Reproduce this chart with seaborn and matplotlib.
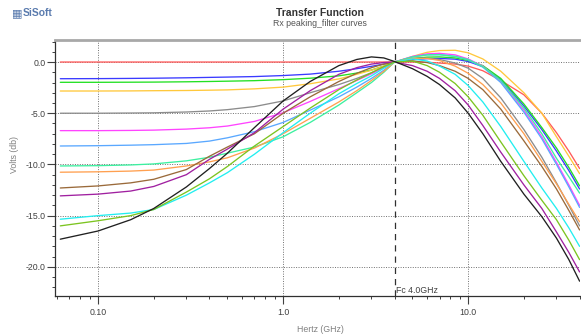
import numpy as np
import pandas as pd
import matplotlib
matplotlib.use("Agg")
import matplotlib.pyplot as plt
import seaborn as sns
from matplotlib.ticker import FixedLocator, NullFormatter

# ---- data ----
freq_ghz = [0.0625, 0.1, 0.15, 0.2, 0.3, 0.4, 0.5, 0.7, 1.0, 1.4, 2.0, 2.5, 3.0, 3.5,
            4.0, 5.0, 6.0, 7.0, 8.5, 10, 12, 15, 20, 25, 30, 35, 40]

red = [0, 0, 0, 0, 0, 0, 0, 0, 0, 0, 0, 0, 0, 0,
       0, 0, -0.02, -0.1, -0.2, -0.4, -0.85, -1.8, -3.2, -5.0, -6.9, -8.7, -10.4]
blue = [-1.63, -1.62, -1.6, -1.58, -1.54, -1.5, -1.47, -1.42, -1.32, -1.18, -0.9, -0.65, -0.42, -0.2,
        0.0, 0.22, 0.33, 0.35, 0.28, 0.05, -0.45, -1.7, -4.3, -6.6, -8.7, -10.6, -12.4]
green = [-1.98, -1.98, -1.97, -1.96, -1.93, -1.9, -1.87, -1.82, -1.72, -1.58, -1.35, -1.08, -0.78, -0.4,
         0.0, 0.35, 0.48, 0.5, 0.4, 0.15, -0.35, -1.6, -4.1, -6.4, -8.4, -10.3, -12.1]
yellow = [-2.83, -2.83, -2.82, -2.8, -2.78, -2.75, -2.72, -2.62, -2.45, -2.12, -1.65, -1.2, -0.8, -0.4,
          0.0, 0.55, 0.95, 1.12, 1.15, 0.9, 0.3, -0.9, -3.0, -5.0, -7.3, -9.2, -10.9]
gray = [-5.0, -5.0, -4.98, -4.96, -4.88, -4.78, -4.65, -4.35, -3.8, -3.0, -2.2, -1.6, -1.05, -0.5,
        0.0, 0.35, 0.38, 0.25, -0.1, -0.6, -1.6, -3.5, -6.6, -9.3, -11.8, -14.0, -16.0]
magenta = [-6.7, -6.7, -6.68, -6.65, -6.55, -6.42, -6.25, -5.8, -4.95, -3.85, -2.6, -1.8, -1.15, -0.55,
           0.0, 0.55, 0.8, 0.85, 0.7, 0.3, -0.4, -1.9, -4.7, -7.3, -9.8, -12.0, -14.0]
lightblue = [-8.2, -8.17, -8.12, -8.07, -7.95, -7.72, -7.4, -6.8, -5.9, -4.7, -3.4, -2.45, -1.6, -0.8,
             0.0, 0.5, 0.7, 0.72, 0.55, 0.2, -0.5, -2.0, -4.9, -7.5, -10.0, -12.2, -14.2]
mint = [-10.15, -10.12, -10.05, -9.95, -9.65, -9.3, -8.9, -8.3, -7.3, -5.9, -4.2, -3.0, -2.0, -1.0,
        0.0, 0.5, 0.7, 0.72, 0.55, 0.25, -0.45, -1.8, -4.5, -7.0, -9.4, -11.2, -12.8]
orange = [-10.76, -10.72, -10.65, -10.55, -10.15, -9.75, -9.35, -8.4, -7.0, -5.5, -3.9, -2.8, -1.8, -0.9,
          0.0, 0.35, 0.35, 0.15, -0.4, -1.1, -2.2, -4.0, -7.0, -9.7, -11.9, -13.9, -15.6]
brown = [-12.3, -12.1, -11.8, -11.45, -10.5, -9.2, -8.3, -7.0, -5.0, -3.4, -1.9, -1.1, -0.55, -0.2,
         0.0, 0.1, -0.05, -0.35, -0.9, -1.6, -2.7, -4.6, -7.7, -10.2, -12.4, -14.5, -16.4]
purple = [-13.07, -12.9, -12.6, -12.15, -11.0, -9.5, -8.5, -6.9, -4.6, -2.8, -1.2, -0.55, -0.2, -0.05,
          0.0, -0.35, -0.9, -1.6, -2.8, -4.2, -6.2, -8.8, -12.0, -14.3, -16.6, -18.6, -20.5]
cyan = [-15.35, -15.0, -14.75, -14.4, -13.0, -11.8, -10.8, -9.0, -6.9, -5.0, -3.1, -2.1, -1.35, -0.6,
        0.0, 0.3, 0.1, -0.4, -1.2, -2.3, -3.9, -6.3, -9.7, -12.3, -14.3, -16.2, -18.0]
yellowgreen = [-16.0, -15.5, -15.0, -14.4, -12.7, -11.4, -10.2, -8.2, -6.3, -4.5, -2.7, -1.75, -1.05, -0.45,
               0.0, 0.1, -0.35, -1.0, -2.1, -3.4, -5.2, -7.8, -11.1, -13.5, -15.4, -17.4, -19.3]
black = [-17.3, -16.5, -15.4, -14.3, -12.2, -10.4, -8.9, -6.4, -3.8, -1.9, -0.35, 0.25, 0.5, 0.4,
         0.05, -0.65, -1.4, -2.2, -3.5, -5.0, -7.0, -9.7, -12.9, -15.1, -17.2, -19.3, -21.4]

curves = {
    "red": red, "blue": blue, "green": green, "yellow": yellow, "gray": gray,
    "magenta": magenta, "lightblue": lightblue, "mint": mint, "orange": orange,
    "brown": brown, "purple": purple, "cyan": cyan, "yellowgreen": yellowgreen,
    "black": black,
}
palette = {
    "red": "#FF5A5A", "blue": "#3A3AFF", "green": "#22E022", "yellow": "#FFC83C",
    "gray": "#8C8C8C", "magenta": "#FF44FF", "lightblue": "#5AA8FF", "mint": "#3CF0A0",
    "orange": "#FFA050", "brown": "#9A6A3A", "purple": "#A020A0", "cyan": "#22EEF0",
    "yellowgreen": "#7CC420", "black": "#202020",
}

fc_ghz = 4.0
x_major = [0.1, 1.0, 10.0]
x_major_labels = ["0.10", "1.0", "10.0"]
y_major = [-20, -15, -10, -5, 0]
y_major_labels = ["-20.0", "-15.0", "-10.0", "-5.0", "0.0"]

rows = []
for name, vals in curves.items():
    for f, v in zip(freq_ghz, vals):
        rows.append((name, f, v))
df = pd.DataFrame(rows, columns=["curve", "freq", "db"])

# ---- figure ----
sns.set_style("white")
plt.rcParams["font.family"] = ["Liberation Sans", "DejaVu Sans"]

fig = plt.figure(figsize=(5.81, 3.36), dpi=100)
ax = fig.add_axes([55 / 581, 40.5 / 336, 525 / 581, 256 / 336])

ax.set_xscale("log")
sns.lineplot(data=df, x="freq", y="db", hue="curve", palette=palette,
             hue_order=list(curves.keys()), estimator=None, sort=False,
             legend=False, linewidth=0.95, ax=ax)

ax.set_xlim(0.0585, 40.2)
ax.set_ylim(-22.8, 2.2)

# grid
for xv in x_major:
    ax.axvline(xv, color="#707070", lw=0.7, ls=(0, (1, 1.5)), zorder=0)
for yv in y_major:
    ax.axhline(yv, color="#707070", lw=0.7, ls=(0, (1, 1.5)), zorder=0)

# Fc marker
ax.axvline(fc_ghz, color="#303030", lw=0.9, ls=(0, (5, 4)), zorder=1)
ax.text(fc_ghz * 1.02, -22.75, "Fc 4.0GHz", fontsize=6.3, color="#404040",
        ha="left", va="bottom")

# ticks
ax.xaxis.set_major_locator(FixedLocator(x_major))
ax.set_xticklabels(x_major_labels)
minor_x = [m * d for d in (0.01, 0.1, 1.0, 10.0) for m in range(2, 10)]
ax.xaxis.set_minor_locator(FixedLocator([v for v in minor_x if 0.0585 <= v <= 40.2]))
ax.xaxis.set_minor_formatter(NullFormatter())
ax.yaxis.set_major_locator(FixedLocator(y_major))
ax.set_yticklabels(y_major_labels)
ax.yaxis.set_minor_locator(FixedLocator(list(range(-22, 3))))

ax.tick_params(axis="both", which="major", direction="out", length=5.5, width=0.8,
               color="#404040", labelsize=6.3, labelcolor="#404040",
               left=True, bottom=True)
ax.tick_params(axis="y", which="major", pad=1.5)
ax.tick_params(axis="x", which="major", pad=3.5)
ax.tick_params(axis="both", which="minor", direction="out", length=2.5, width=0.7,
               color="#404040", left=True, bottom=True)

# spines
ax.spines["right"].set_visible(False)
ax.spines["left"].set_color("#303030")
ax.spines["left"].set_linewidth(0.9)
ax.spines["bottom"].set_color("#303030")
ax.spines["bottom"].set_linewidth(0.9)
ax.spines["top"].set_color("#A8A8A8")
ax.spines["top"].set_linewidth(2.0)

ax.set_xlabel("Hertz (GHz)", fontsize=6.3, color="#808080")
ax.set_ylabel("Volts (db)", fontsize=6.3, color="#808080")
ax.xaxis.set_label_coords(0.505, -0.115)
ax.yaxis.set_label_coords(-0.068, 0.55)

# titles
fig.text(320 / 581, 1 - 13 / 336, "Transfer Function", ha="center", va="center",
         fontsize=7.5, fontweight="bold", color="#333333")
fig.text(320 / 581, 1 - 24 / 336, "Rx peaking_filter curves", ha="center", va="center",
         fontsize=6.3, color="#555555")

# logo
fig.text(12 / 581, 1 - 13 / 336, "\u25A6", ha="left", va="center", fontsize=8,
         color="#5A7BAE", family=["DejaVu Sans"])
fig.text(23 / 581, 1 - 13 / 336, "SiSoft", ha="left", va="center", fontsize=7.5,
         fontweight="bold", color="#5A7BAE")

fig.savefig("out.png", dpi=100)
